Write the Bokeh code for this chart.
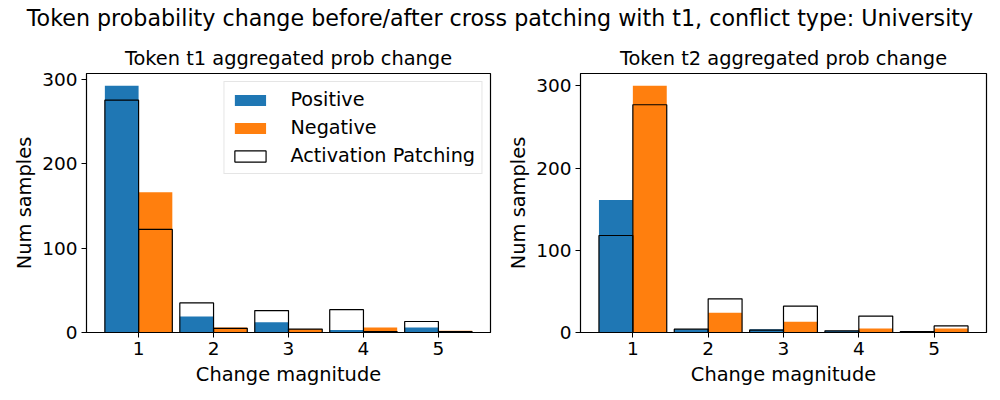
from bokeh.plotting import figure
from bokeh.models import Range1d, FixedTicker, Div
from bokeh.layouts import column, row
from bokeh.embed import file_html
from bokeh.resources import INLINE

magnitudes = [1, 2, 3, 4, 5]
x_tick_labels = ["1", "2", "3", "4", "5"]
y_ticks = [0, 100, 200, 300]

t1_positive = [292, 19, 12, 3, 6]
t1_negative = [166, 6, 4, 6, 2]
t1_ap_positive = [275, 35, 26, 27, 13]
t1_ap_negative = [122, 5, 4, 1, 1]

t2_positive = [161, 4, 4, 2, 1]
t2_negative = [300, 24, 13, 5, 5]
t2_ap_positive = [118, 4, 3, 2, 1]
t2_ap_negative = [277, 41, 32, 20, 8]

BLUE = "#1f77b4"
ORANGE = "#ff7f0e"
FONT = "DejaVu Sans"
BAR_W = 0.45


def make_panel(title, pos, neg, ap_pos, ap_neg, border_left, border_right, legend):
    ymax = max(pos + neg + ap_pos + ap_neg) * 1.05
    p = figure(
        output_backend="svg", toolbar_location=None,
        width=500, height=360,
        x_range=Range1d(0.305, 5.695), y_range=Range1d(0, ymax),
        min_border_left=border_left, min_border_right=border_right,
        min_border_top=0, min_border_bottom=68,
        title=title,
    )
    xp = [m - BAR_W / 2 for m in magnitudes]
    xn = [m + BAR_W / 2 for m in magnitudes]
    kw_p = dict(legend_label="Positive") if legend else {}
    kw_n = dict(legend_label="Negative") if legend else {}
    kw_a = dict(legend_label="Activation Patching") if legend else {}
    p.vbar(x=xp, top=pos, width=BAR_W, bottom=0, fill_color=BLUE, line_color=None, **kw_p)
    p.vbar(x=xn, top=neg, width=BAR_W, bottom=0, fill_color=ORANGE, line_color=None, **kw_n)
    p.vbar(x=xp, top=ap_pos, width=BAR_W, bottom=0, fill_alpha=0, fill_color="white",
           line_color="black", line_width=1.2, **kw_a)
    p.vbar(x=xn, top=ap_neg, width=BAR_W, bottom=0, fill_alpha=0, fill_color="white",
           line_color="black", line_width=1.2)

    p.title.align = "center"
    p.title.text_font = FONT
    p.title.text_font_size = "19.4px"
    p.title.text_font_style = "normal"
    p.title.text_color = "black"
    p.title.standoff = 8

    p.xgrid.visible = False
    p.ygrid.visible = False
    p.outline_line_color = "black"
    p.outline_line_width = 1.2
    p.outline_line_alpha = 1

    p.xaxis.ticker = FixedTicker(ticks=magnitudes)
    p.xaxis.major_label_overrides = {m: l for m, l in zip(magnitudes, x_tick_labels)}
    p.yaxis.ticker = FixedTicker(ticks=y_ticks)
    p.xaxis.axis_label = "Change magnitude"
    p.yaxis.axis_label = "Num samples"
    for ax in (p.xaxis, p.yaxis):
        ax.axis_line_color = "black"
        ax.major_tick_in = 0
        ax.major_tick_out = 5
        ax.minor_tick_in = 0
        ax.minor_tick_out = 0
        ax.major_tick_line_color = "black"
        ax.major_label_text_font = FONT
        ax.major_label_text_font_size = "18.5px"
        ax.major_label_text_color = "black"
        ax.axis_label_text_font = FONT
        ax.axis_label_text_font_size = "19.4px"
        ax.axis_label_text_font_style = "normal"
        ax.axis_label_text_color = "black"
    p.xaxis.major_label_standoff = 4
    p.xaxis.axis_label_standoff = 5
    p.yaxis.major_label_standoff = 4
    p.yaxis.axis_label_standoff = 3

    if legend:
        lg = p.legend[0]
        lg.location = "top_right"
        lg.margin = 8
        lg.padding = 6
        lg.spacing = 5
        lg.glyph_width = 39
        lg.glyph_height = 14
        lg.label_standoff = 21
        lg.label_text_font = FONT
        lg.label_text_font_size = "19.2px"
        lg.label_text_color = "black"
        lg.border_line_color = "#cccccc"
        lg.border_line_width = 1
        lg.background_fill_alpha = 0.8
    return p


p1 = make_panel("Token t1 aggregated prob change", t1_positive, t1_negative,
                t1_ap_positive, t1_ap_negative, 86, 10, True)
p2 = make_panel("Token t2 aggregated prob change", t2_positive, t2_negative,
                t2_ap_positive, t2_ap_negative, 80, 14, False)

suptitle = "Token probability change before/after cross patching with t1, conflict type: University"
title_div = Div(
    text='<div style="width:1000px;text-align:center;font-family:\'DejaVu Sans\';'
         'font-size:22.2px;line-height:22px;padding-top:7px;color:black;">'
         + suptitle + '</div>',
    width=1000, height=40, margin=0,
)

layout = column(title_div, row(p1, p2, spacing=0), spacing=0)

with open("out.html", "w") as f:
    f.write(file_html(layout, INLINE))
